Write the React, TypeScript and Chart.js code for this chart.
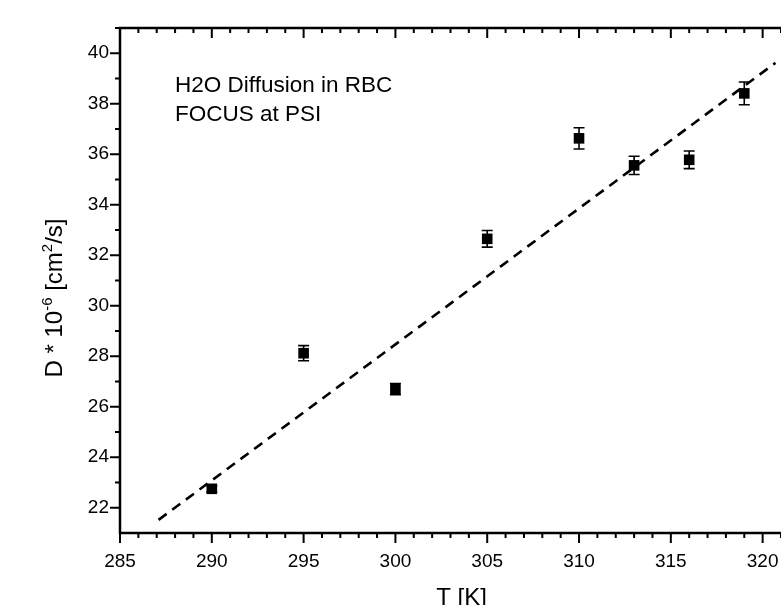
import React, { useEffect, useRef } from "react";
import { Chart, registerables } from "chart.js";

Chart.register(...registerables);

// ---- data ----
const temperatures = [290, 295, 300, 305, 310, 313, 316, 319];
const diffusion = [22.75, 28.12, 26.7, 32.65, 36.63, 35.56, 35.78, 38.41];
const errors = [0.12, 0.3, 0.22, 0.33, 0.42, 0.36, 0.35, 0.45];
const fitT = [287.1, 320.7];
const fitD = [21.52, 39.62];

const xMin = 285;
const xMax = 321;
const yMin = 21;
const yMax = 41;
const xMajorStep = 5;
const yMajorStep = 2;

const annotationLines = ["H2O Diffusion in RBC", "FOCUS at PSI"];
const annotationAt = { t: 288, d: 38.45 };
const xTitle = "T [K]";

const FONT = "'Liberation Sans', Arial, sans-serif";

const decorPlugin = {
  id: "decor",
  beforeDatasetsDraw(chart: any) {
    const { ctx, scales } = chart;
    const x = scales.x;
    const y = scales.y;
    ctx.save();
    ctx.strokeStyle = "#000";
    ctx.lineWidth = 1.6;
    ctx.beginPath();
    for (let i = 0; i < temperatures.length; i++) {
      const px = x.getPixelForValue(temperatures[i]);
      const top = y.getPixelForValue(diffusion[i] + errors[i]);
      const bot = y.getPixelForValue(diffusion[i] - errors[i]);
      ctx.moveTo(px, top);
      ctx.lineTo(px, bot);
      ctx.moveTo(px - 5.5, top);
      ctx.lineTo(px + 5.5, top);
      ctx.moveTo(px - 5.5, bot);
      ctx.lineTo(px + 5.5, bot);
    }
    ctx.stroke();
    ctx.restore();
  },
  afterDraw(chart: any) {
    const { ctx, chartArea: a, scales } = chart;
    const x = scales.x;
    const y = scales.y;
    ctx.save();
    ctx.strokeStyle = "#000";
    // frame lines
    ctx.lineWidth = 2.5;
    ctx.beginPath();
    ctx.moveTo(a.left, a.bottom);
    ctx.lineTo(a.right + 5, a.bottom);
    ctx.moveTo(a.left, a.bottom + 1.2);
    ctx.lineTo(a.left, a.top - 1.2);
    ctx.moveTo(a.left, a.top);
    ctx.lineTo(a.right + 5, a.top);
    ctx.stroke();
    // tick marks
    ctx.lineWidth = 2;
    ctx.beginPath();
    for (let v = xMin; v <= xMax; v++) {
      const px = x.getPixelForValue(v);
      const len = v % xMajorStep === 0 ? 10 : 5;
      ctx.moveTo(px, a.bottom);
      ctx.lineTo(px, a.bottom + len);
      if (v !== xMin) {
        ctx.moveTo(px, a.top);
        ctx.lineTo(px, a.top + len);
      }
    }
    for (let v = yMin + 1; v <= yMax; v++) {
      const py = y.getPixelForValue(v);
      const len = v % yMajorStep === 0 ? 10 : 5;
      ctx.moveTo(a.left, py);
      ctx.lineTo(a.left - len, py);
    }
    ctx.stroke();

    // annotation text
    ctx.fillStyle = "#000";
    ctx.font = `22.5px ${FONT}`;
    ctx.textAlign = "left";
    ctx.textBaseline = "alphabetic";
    const ax = x.getPixelForValue(annotationAt.t);
    const ay = y.getPixelForValue(annotationAt.d);
    annotationLines.forEach((line, i) => ctx.fillText(line, ax, ay + i * 28.2));

    // x title
    ctx.font = `24px ${FONT}`;
    ctx.textAlign = "center";
    ctx.fillText(xTitle, 461.5, 604.5);

    // y title with superscripts
    const parts: { t: string; sup: boolean }[] = [
      { t: "D * 10", sup: false },
      { t: "-6", sup: true },
      { t: " [cm", sup: false },
      { t: "2", sup: true },
      { t: "/s]", sup: false },
    ];
    const bigFont = `24px ${FONT}`;
    const supFont = `15px ${FONT}`;
    let total = 0;
    const widths = parts.map((p) => {
      ctx.font = p.sup ? supFont : bigFont;
      const w = ctx.measureText(p.t).width;
      total += w;
      return w;
    });
    ctx.translate(62, 298);
    ctx.rotate(-Math.PI / 2);
    ctx.textAlign = "left";
    let cx = -total / 2;
    parts.forEach((p, i) => {
      ctx.font = p.sup ? supFont : bigFont;
      ctx.fillText(p.t, cx, p.sup ? -10 : 0);
      cx += widths[i];
    });
    ctx.restore();
  },
};

export default function App() {
  const ref = useRef<HTMLCanvasElement | null>(null);

  useEffect(() => {
    document.body.style.margin = "0";
    const canvas = ref.current;
    if (!canvas) return;
    const chart = new Chart(canvas, {
      type: "scatter",
      data: {
        datasets: [
          {
            label: "D",
            data: temperatures.map((t, i) => ({ x: t, y: diffusion[i] })),
            pointStyle: "rect",
            pointRadius: 7.5,
            pointHoverRadius: 7.5,
            backgroundColor: "#000",
            borderColor: "#000",
            borderWidth: 0,
          },
          {
            label: "fit",
            data: fitT.map((t, i) => ({ x: t, y: fitD[i] })),
            showLine: true,
            borderColor: "#000",
            borderWidth: 2.6,
            borderDash: [10, 7],
            pointRadius: 0,
            fill: false,
          },
        ],
      },
      options: {
        animation: false,
        responsive: false,
        events: [],
        layout: { autoPadding: false, padding: { top: 28, right: 0, left: 0, bottom: 0 } },
        plugins: {
          legend: { display: false },
          tooltip: { enabled: false },
        },
        scales: {
          x: {
            type: "linear",
            min: xMin,
            max: xMax,
            grid: { display: false, drawTicks: false },
            border: { display: false },
            ticks: {
              stepSize: 1,
              autoSkip: false,
              maxRotation: 0,
              padding: 17,
              color: "#000",
              font: { family: FONT, size: 19 },
              callback: (v: any) => (Number(v) % xMajorStep === 0 ? String(v) : ""),
            },
            afterFit: (s: any) => {
              s.height = 72;
              s.paddingLeft = 0;
              s.paddingRight = 0;
            },
          },
          y: {
            type: "linear",
            min: yMin,
            max: yMax,
            grid: { display: false, drawTicks: false },
            border: { display: false },
            ticks: {
              stepSize: 1,
              autoSkip: false,
              padding: 11,
              color: "#000",
              font: { family: FONT, size: 19 },
              callback: (v: any) => (Number(v) % yMajorStep === 0 ? String(v) : ""),
            },
            afterFit: (s: any) => {
              s.width = 120;
              s.paddingTop = 0;
              s.paddingBottom = 0;
            },
          },
        },
      },
      plugins: [decorPlugin],
    });
    return () => chart.destroy();
  }, []);

  return (
    <div style={{ position: "fixed", left: 0, top: 0, width: 781, height: 605, background: "#fff" }}>
      <canvas ref={ref} width={781} height={605} style={{ display: "block" }} />
    </div>
  );
}
